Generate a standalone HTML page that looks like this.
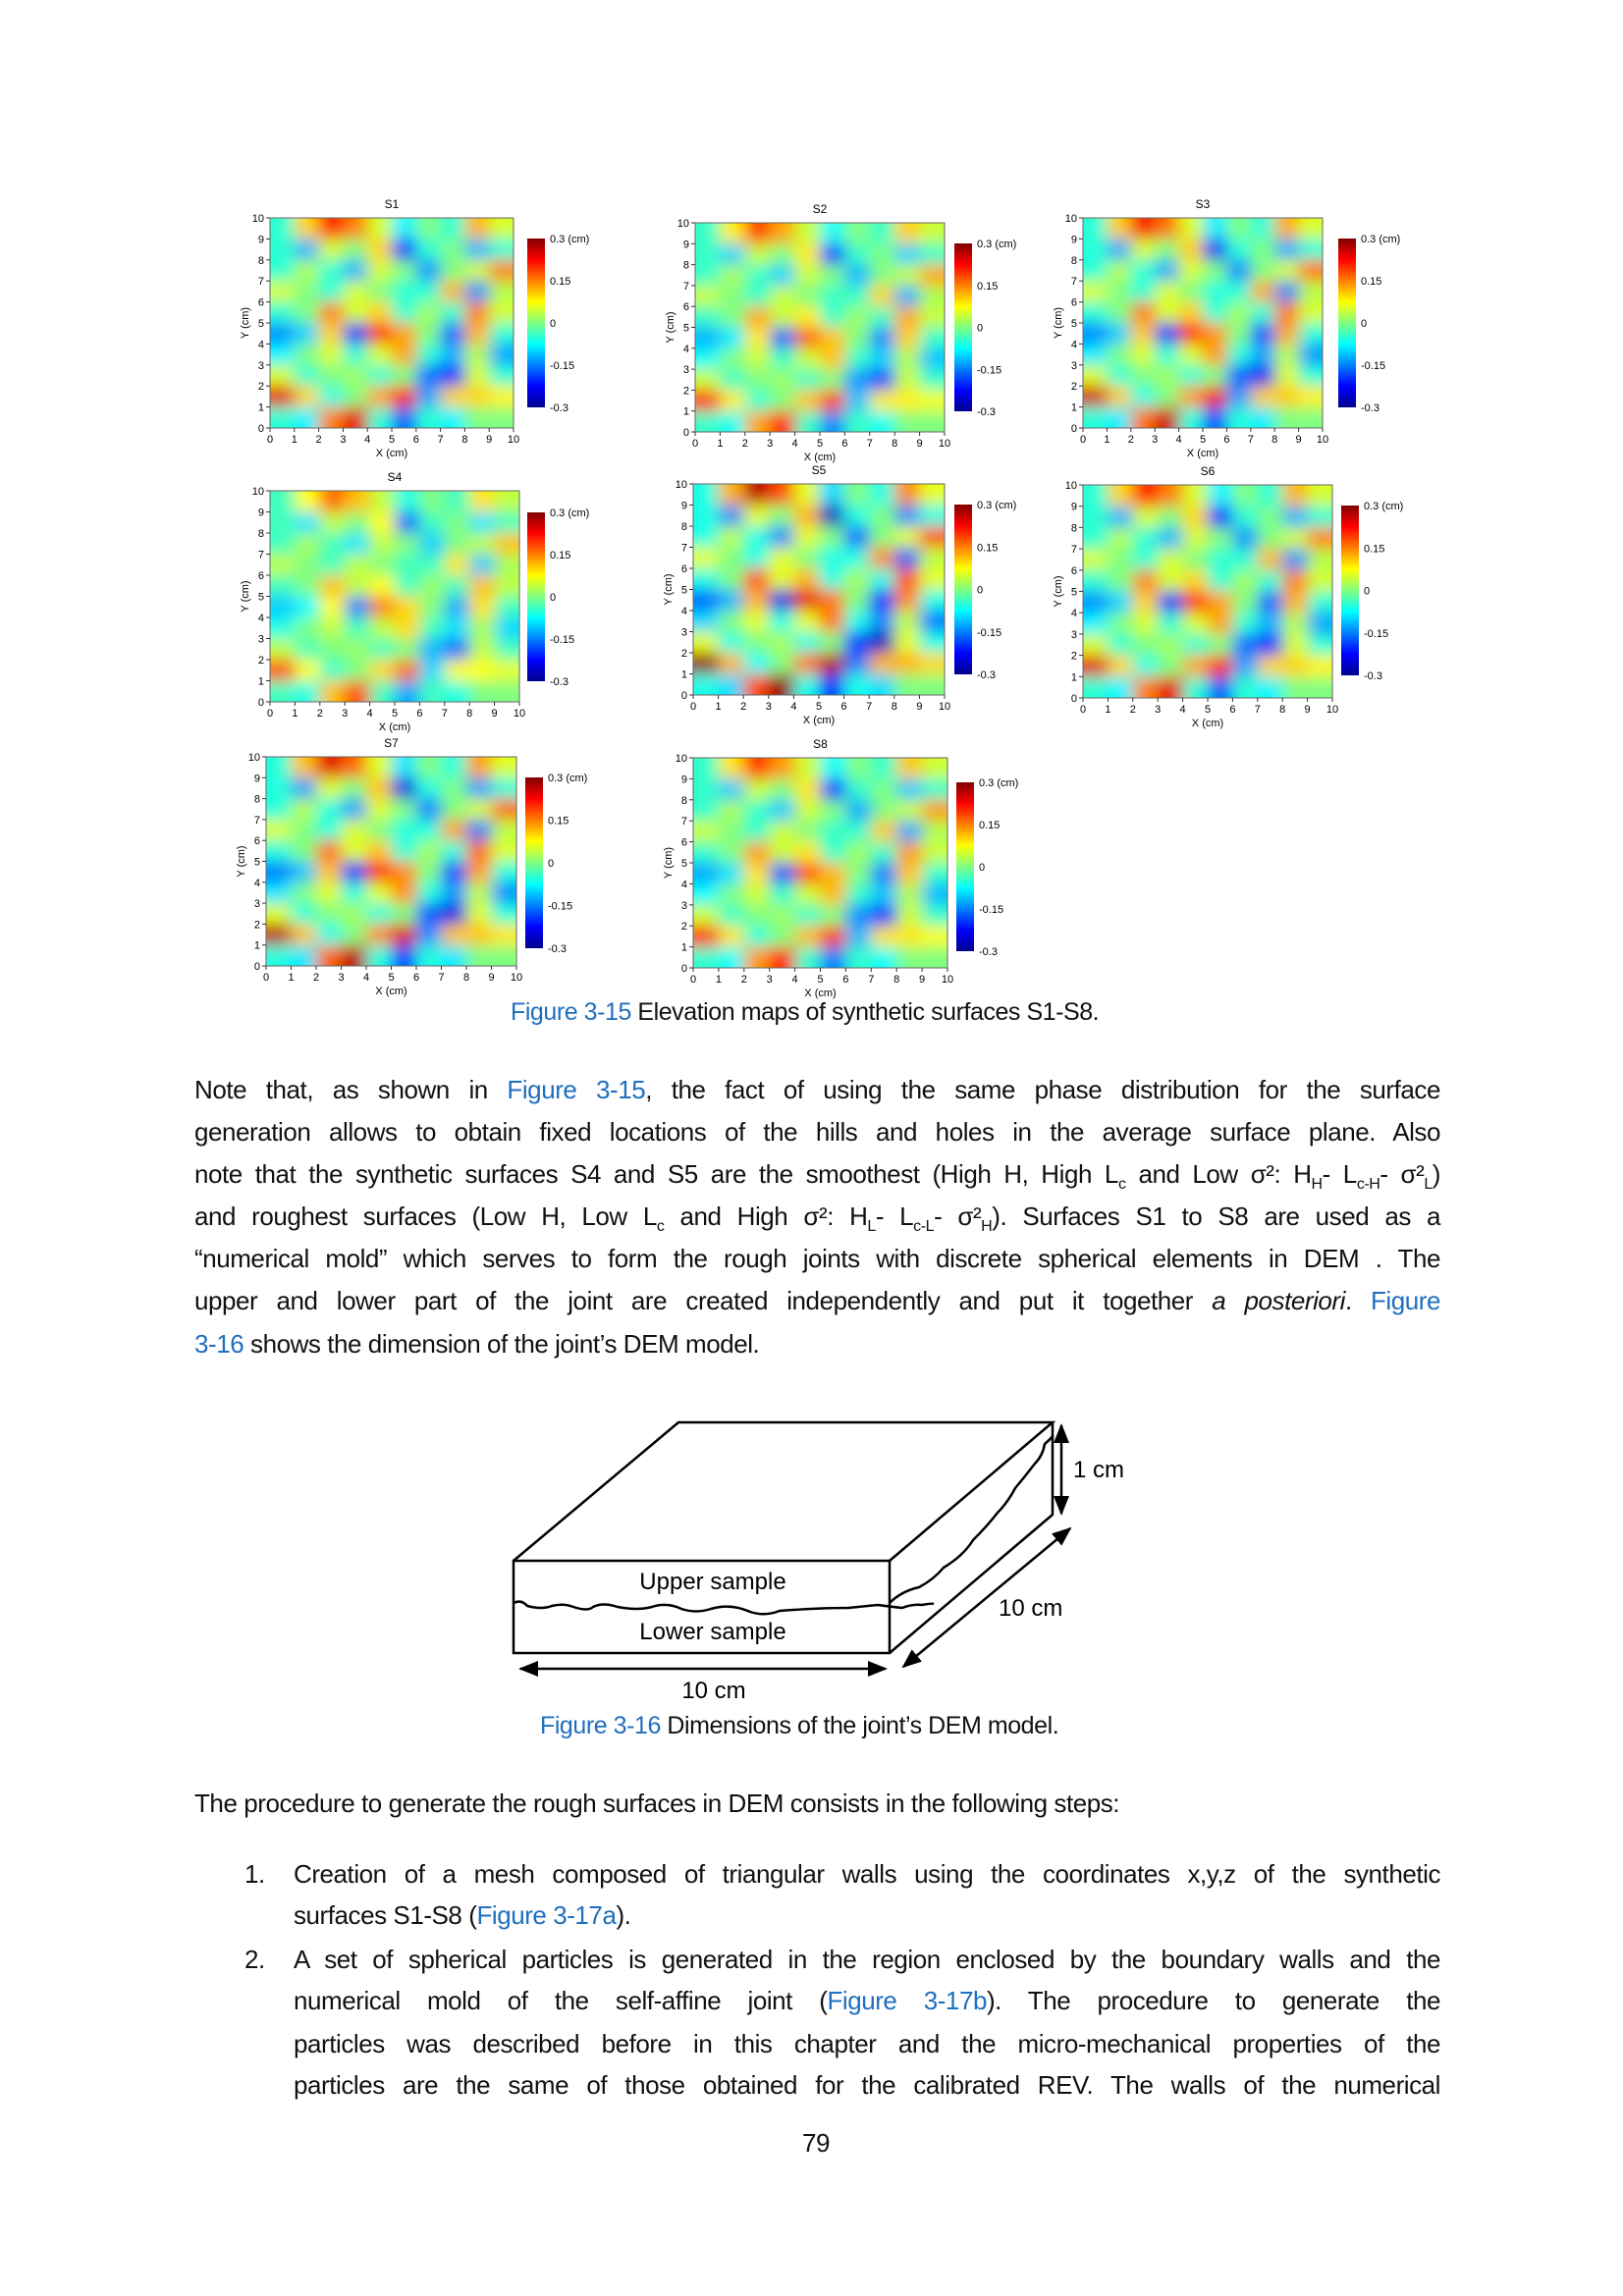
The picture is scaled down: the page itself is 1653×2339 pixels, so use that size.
<!DOCTYPE html>
<html><head><meta charset="utf-8"><style>
body{margin:0;background:#fff;}
#page{position:relative;width:1653px;height:2339px;overflow:hidden;background:#fff;font-family:"Liberation Sans",sans-serif;color:#111;}
.ln{position:absolute;white-space:nowrap;font-size:26px;letter-spacing:-0.45px;line-height:30px;text-align:justify;text-align-last:justify;}
.ll{text-align:left;text-align-last:left;}
.blue{color:#1f6fbf;}
svg text{font-family:"Liberation Sans",sans-serif;}
</style></head><body>
<div id="page">
<svg id="maps" width="1653" height="1030" style="position:absolute;left:0;top:0">
<defs>
<filter id="blur" x="-5%" y="-5%" width="110%" height="110%"><feGaussianBlur stdDeviation="8"/></filter>
<linearGradient id="jet" x1="0" y1="1" x2="0" y2="0">
<stop offset="0" stop-color="#00008f"/><stop offset="0.125" stop-color="#0000ff"/><stop offset="0.375" stop-color="#00ffff"/><stop offset="0.625" stop-color="#ffff00"/><stop offset="0.875" stop-color="#ff0000"/><stop offset="1" stop-color="#800000"/>
</linearGradient>
</defs>
</svg>
<div class="ln ll" style="left:520px;top:1016px;font-size:25px;"><span class="blue">Figure 3-15</span> Elevation maps of synthetic surfaces S1-S8.</div>

<div>
<div class="ln" style="left:198px;top:1095px;width:1269px">Note that, as shown in <span class="blue">Figure 3-15</span>, the fact of using the same phase distribution for the surface</div>
<div class="ln" style="left:198px;top:1138px;width:1269px">generation allows to obtain fixed locations of the hills and holes in the average surface plane. Also</div>
<div class="ln" style="left:198px;top:1181px;width:1269px">note that the synthetic surfaces S4 and S5 are the smoothest (High H, High L<sub style="font-size:16px">c</sub> and Low σ²: H<sub style="font-size:16px">H</sub>- L<sub style="font-size:16px">c-H</sub>- σ²<sub style="font-size:16px">L</sub>)</div>
<div class="ln" style="left:198px;top:1224px;width:1269px">and roughest surfaces (Low H, Low L<sub style="font-size:16px">c</sub> and High σ²: H<sub style="font-size:16px">L</sub>- L<sub style="font-size:16px">c-L</sub>- σ²<sub style="font-size:16px">H</sub>). Surfaces S1 to S8 are used as a</div>
<div class="ln" style="left:198px;top:1267px;width:1269px">“numerical mold” which serves to form the rough joints with discrete spherical elements in DEM . The</div>
<div class="ln" style="left:198px;top:1310px;width:1269px">upper and lower part of the joint are created independently and put it together <i>a posteriori</i>. <span class="blue">Figure</span></div>
<div class="ln ll" style="left:198px;top:1354px;"><span class="blue">3-16</span> shows the dimension of the joint’s DEM model.</div>
</div>

<svg width="1653" height="300" style="position:absolute;left:0;top:1430px" viewBox="0 1440 1653 300">
<defs><marker id="ah2" markerWidth="20" markerHeight="16" refX="18" refY="8" orient="auto-start-reverse" markerUnits="userSpaceOnUse"><path d="M0,0 L20,8 L0,16 z" fill="#000"/></marker></defs>
<g fill="none" stroke="#000" stroke-width="2.5">
<rect x="523" y="1600" width="383" height="94"/>
<polyline points="523,1600 691,1459 1072,1459 906,1600"/>
<polyline points="1072,1459 1072,1553 906,1694"/>
<path d="M523,1643 q8,-4 14,3 q15,4 25,0 q12,-3 22,1 q15,5 20,0 q10,-5 25,0 q20,4 35,0 q15,-5 30,2 q15,5 30,0 q20,-6 40,3 q15,5 30,-1 q40,-3 70,-3 q20,-2 30,-3 q15,2 25,3 q10,-4 20,-3 q10,-2 12,-1"/>
<path d="M906,1643 q12,-12 30,-16 q15,-8 25,-20 q20,-12 30,-28 q15,-15 25,-28 q10,-10 18,-25 q10,-12 20,-25 q8,-8 10,-20 q6,-5 8,-8"/>
</g>
<line x1="530" y1="1710" x2="902" y2="1710" stroke="#000" stroke-width="2.5" marker-start="url(#ah2)" marker-end="url(#ah2)"/>
<line x1="1081" y1="1462" x2="1081" y2="1552" stroke="#000" stroke-width="2.5" marker-start="url(#ah2)" marker-end="url(#ah2)"/>
<line x1="1090" y1="1567" x2="920" y2="1708" stroke="#000" stroke-width="2.5" marker-start="url(#ah2)" marker-end="url(#ah2)"/>
<text x="726" y="1629" font-size="24" text-anchor="middle">Upper sample</text>
<text x="726" y="1680" font-size="24" text-anchor="middle">Lower sample</text>
<text x="727" y="1740" font-size="24" text-anchor="middle">10 cm</text>
<text x="1093" y="1515" font-size="24">1 cm</text>
<text x="1017" y="1656" font-size="24">10 cm</text>
</svg>
<div class="ln ll" style="left:550px;top:1743px;font-size:25px;"><span class="blue">Figure 3-16</span> Dimensions of the joint’s DEM model.</div>

<div class="ln ll" style="left:198px;top:1822px;">The procedure to generate the rough surfaces in DEM consists in the following steps:</div>

<div>
<div class="ln ll" style="left:249px;top:1894px;">1.</div>
<div class="ln" style="left:299px;top:1894px;width:1168px">Creation of a mesh composed of triangular walls using the coordinates x,y,z of the synthetic</div>
<div class="ln ll" style="left:299px;top:1936px;">surfaces S1-S8 (<span class="blue">Figure 3-17a</span>).</div>
<div class="ln ll" style="left:249px;top:1981px;">2.</div>
<div class="ln" style="left:299px;top:1981px;width:1168px">A set of spherical particles is generated in the region enclosed by the boundary walls and the</div>
<div class="ln" style="left:299px;top:2023px;width:1168px">numerical mold of the self-affine joint (<span class="blue">Figure 3-17b</span>). The procedure to generate the</div>
<div class="ln" style="left:299px;top:2067px;width:1168px">particles was described before in this chapter and the micro-mechanical properties of the</div>
<div class="ln" style="left:299px;top:2109px;width:1168px">particles are the same of those obtained for the calibrated REV. The walls of the numerical</div>
</div>
<div class="ln ll" style="left:817px;top:2168px;">79</div>
</div>
<script>
// Base elevation grid (cm), rows from y=9.5 (top) down to y=0.5, columns x=0.5..9.5
const baseRow9 = [-0.05,0.10,0.22,0.15,0.05,-0.08,0.00,-0.05,0.12,0.05];
const baseRow8 = [-0.05,-0.12,0.05,0.00,0.10,-0.22,-0.05,0.00,-0.12,-0.05];
const baseRow7 = [-0.05,0.03,-0.05,-0.12,0.05,0.00,-0.14,0.00,0.05,0.15];
const baseRow6 = [0.05,0.00,-0.05,0.05,0.00,-0.05,-0.05,0.12,-0.14,0.03];
const baseRow5 = [-0.05,0.00,0.15,0.05,0.10,-0.05,0.02,-0.05,0.15,0.05];
const baseRow4 = [-0.14,-0.10,0.10,-0.20,0.20,0.13,0.00,-0.17,0.12,-0.05];
const baseRow3 = [-0.08,0.00,0.05,-0.05,0.05,0.13,-0.05,-0.12,0.03,-0.13];
const baseRow2 = [0.05,-0.05,0.00,0.02,-0.05,0.00,-0.16,-0.22,0.05,-0.05];
const baseRow1 = [0.24,0.10,-0.06,0.00,0.13,0.22,-0.13,0.10,0.10,0.08];
const baseRow0 = [-0.05,-0.08,0.15,0.24,-0.05,-0.17,-0.05,-0.08,0.00,0.00];
const surfaceNames = ["S1","S2","S3","S4","S5","S6","S7","S8"];
const surfaceAmplitude = [1.0,0.85,1.05,0.75,1.2,1.0,1.1,0.9];
const xTicks = [0,1,2,3,4,5,6,7,8,9,10];
const yTicks = [0,1,2,3,4,5,6,7,8,9,10];
const cbTicks = [0.3,0.15,0,-0.15,-0.3];
const cbLabels = ["0.3 (cm)","0.15","0","-0.15","-0.3"];

const grid=[baseRow9,baseRow8,baseRow7,baseRow6,baseRow5,baseRow4,baseRow3,baseRow2,baseRow1,baseRow0];
const layout=[
 [275,222,523,436,537,243,555,415],[708,227,962,440,972,248,990,419],[1103,222,1347,436,1363,243,1381,415],
 [275,500,529,715,537,522,555,694],[706,493,962,708,972,514,990,687],[1103,494,1357,711,1366,515,1384,688],
 [271,771,526,984,535,792,553,966],[706,772,965,986,974,797,992,969]];
const NS="http://www.w3.org/2000/svg";
const svg=document.getElementById('maps');
function mk(tag,attrs,parent){const e=document.createElementNS(NS,tag);for(const k in attrs)e.setAttribute(k,attrs[k]);(parent||svg).appendChild(e);return e;}
function cl(v){return Math.max(0,Math.min(1,v));}
function jet(v){const t=cl((v+0.3)/0.6);const r=cl(1.5-Math.abs(4*t-3)),g=cl(1.5-Math.abs(4*t-2)),b=cl(1.5-Math.abs(4*t-1));return `rgb(${Math.round(r*255)},${Math.round(g*255)},${Math.round(b*255)})`;}
surfaceNames.forEach((name,si)=>{
 const [x0,y0,x1,y1,cx0,cy0,cx1,cy1]=layout[si];
 const xs=v=>x0+(v/10)*(x1-x0), ys=v=>y1-(v/10)*(y1-y0);
 const g=mk('g',{});
 
 
 const cid='clip'+si;
 const cp=mk('clipPath',{id:cid},g);mk('rect',{x:x0,y:y0,width:x1-x0,height:y1-y0},cp);
 const cg=mk('g',{'clip-path':`url(#${cid})`},g);
 const bg=mk('g',{filter:'url(#blur)'},cg);
 const amp=surfaceAmplitude[si];
 grid.forEach((row,ri)=>{row.forEach((val,ci)=>{
   let rx=xs(ci),rx2=xs(ci+1),ry=ys(10-ri),ry2=ys(9-ri);
   if(ci===0)rx-=20; if(ci===9)rx2+=20; if(ri===0)ry-=20; if(ri===9)ry2+=20;
   const c=mk('rect',{x:rx,y:ry,width:rx2-rx+0.5,height:ry2-ry+0.5,fill:jet(val*amp)},bg);
   
   
 });});
 mk('rect',{x:x0,y:y0,width:x1-x0,height:y1-y0,fill:'none',stroke:'#666','stroke-width':1},g);
 xTicks.forEach(t=>{mk('line',{x1:xs(t),y1:y1,x2:xs(t),y2:y1+4,stroke:'#333'},g);const tx=mk('text',{x:xs(t),y:y1+15,'font-size':11,'text-anchor':'middle'},g);tx.textContent=t;});
 yTicks.forEach(t=>{mk('line',{x1:x0-4,y1:ys(t),x2:x0,y2:ys(t),stroke:'#333'},g);const tx=mk('text',{x:x0-6,y:ys(t)+4,'font-size':11,'text-anchor':'end'},g);tx.textContent=t;});
 const title=mk('text',{x:(x0+x1)/2,y:y0-10,'font-size':12,'text-anchor':'middle'},g);title.textContent=name;
 
 
 const xl=mk('text',{x:(x0+x1)/2,y:y1+29,'font-size':11,'text-anchor':'middle'},g);xl.textContent='X (cm)';
 
 
 const yl=mk('text',{x:0,y:0,'font-size':11,'text-anchor':'middle',transform:`translate(${x0-22},${(y0+y1)/2}) rotate(-90)`},g);yl.textContent='Y (cm)';
 
 
 const cb=mk('rect',{x:cx0,y:cy0,width:cx1-cx0,height:cy1-cy0,fill:'url(#jet)'},g);
 
 
 cbTicks.forEach((t,i)=>{const yy=cy0+(0.3-t)/0.6*(cy1-cy0);const tx=mk('text',{x:cx1+5,y:yy+4,'font-size':11},g);tx.textContent=cbLabels[i];});
});
</script>
</body></html>
